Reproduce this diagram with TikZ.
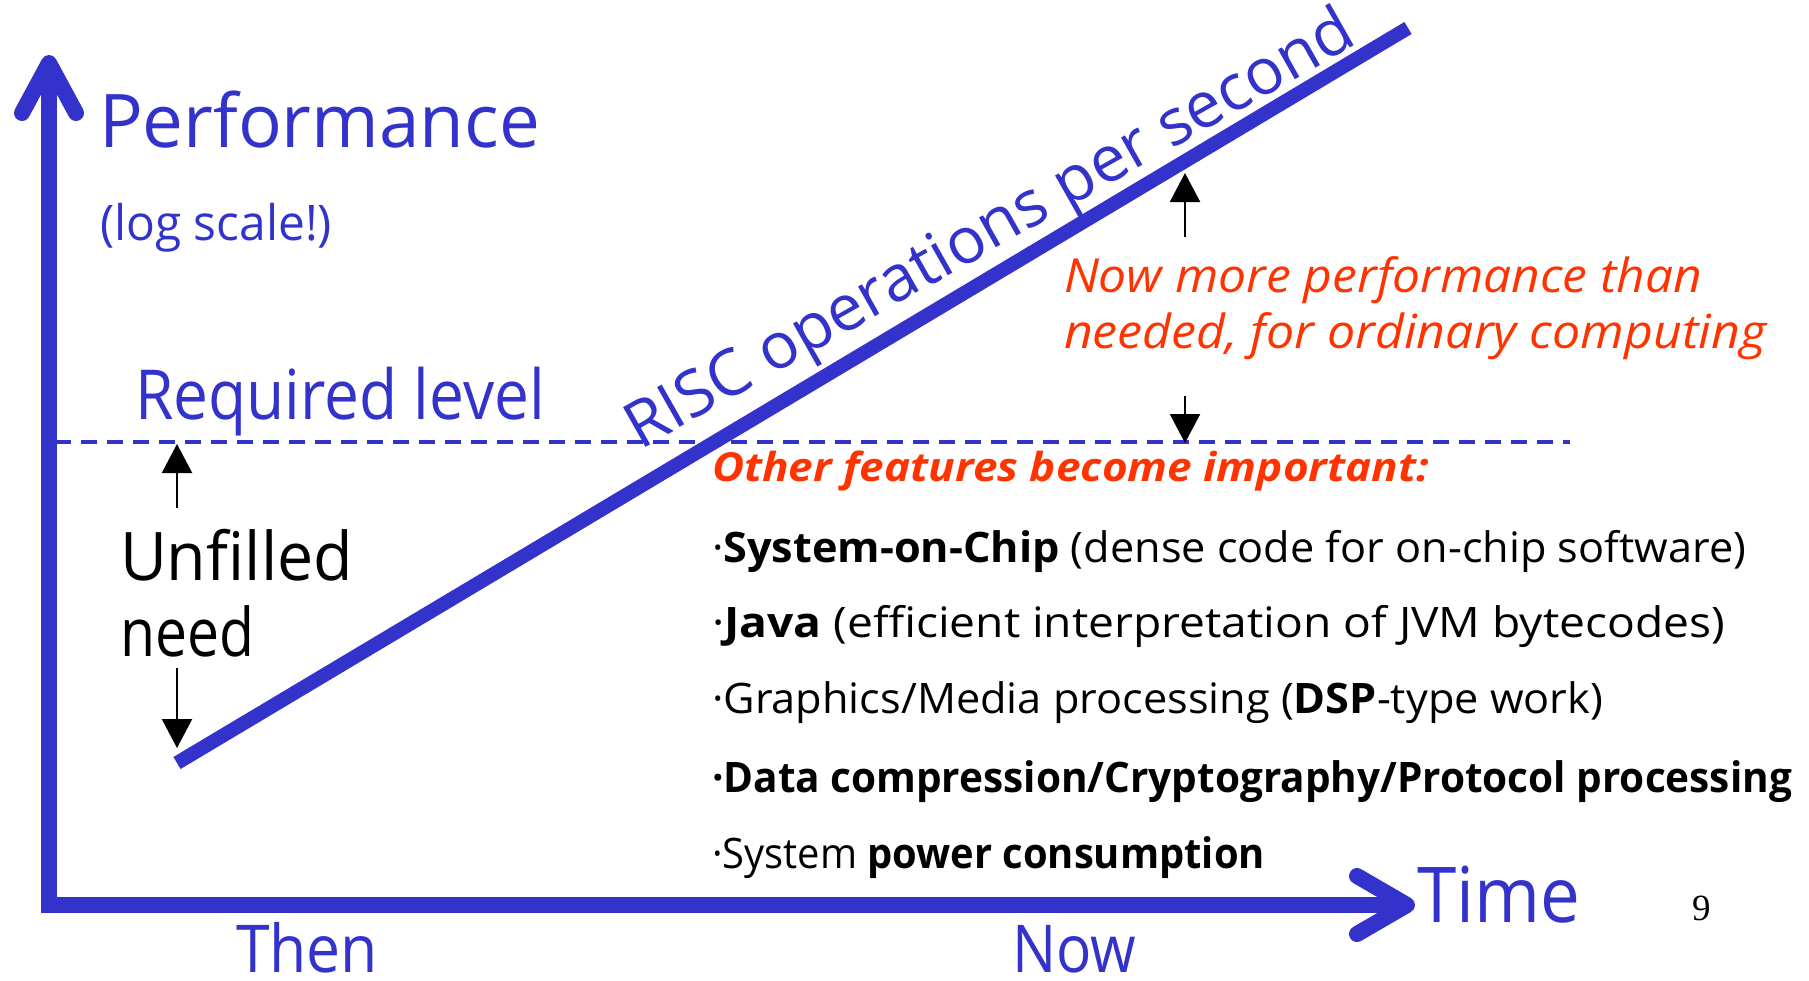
\documentclass[tikz,border=0pt]{standalone}
\usepackage{fontspec}
\setmainfont{Open Sans}
\newfontfamily\numfont{Liberation Serif}
\usetikzlibrary{arrows.meta}
\definecolor{axblue}{RGB}{51,51,204}
\definecolor{hot}{RGB}{255,51,0}
\newcommand{\fw}[2]{\resizebox{#1pt}{\height}{#2}}
\newcommand{\fs}[1]{\fontsize{#1}{#1}\selectfont}
\begin{document}
\begin{tikzpicture}[x=1pt,y=-1pt,
  lbl/.style={inner sep=0pt, outer sep=0pt, anchor=base west},
  axisline/.style={line width=16pt, draw=axblue},
  axishead/.style={line width=16pt, draw=axblue, line cap=round, line join=round},
  gaparrow/.style={draw=black, line width=2.2pt, -{Triangle[width=30pt,length=29pt]}},
  reqline/.style={draw=axblue, line width=3.5pt, dash pattern=on 16pt off 10pt},
  riscline/.style={draw=axblue, line width=14pt}]
\useasboundingbox (0,0) rectangle (1809,980);
% axes
\coordinate (ybot) at (49,913);
\coordinate (ytop) at (49,72);
\coordinate (origin) at (49,905);
\coordinate (xend) at (1396,905);
\coordinate (ytip) at (49,63);
\coordinate (ywl) at (22,113);
\coordinate (ywr) at (76,113);
\coordinate (xtip) at (1407,905);
\coordinate (xwu) at (1357,876);
\coordinate (xwd) at (1357,934);
\draw[axisline] (ybot) -- (ytop);
\draw[axisline] (origin) -- (xend);
\draw[axishead] (ywl) -- (ytip) -- (ywr);
\draw[axishead] (xwu) -- (xtip) -- (xwd);
% required level
\coordinate (req0) at (55,442);
\coordinate (req1) at (1570,442);
\draw[reqline] (req0) -- (req1);
% RISC line
\coordinate (risc0) at (177,763);
\coordinate (risc1) at (1408,28);
\draw[riscline] (risc0) -- (risc1);
% gap arrows
\coordinate (ua0) at (177,508);
\coordinate (ua1) at (177,444);
\coordinate (da0) at (177,668);
\coordinate (da1) at (177,748);
\coordinate (nu0) at (1185,237);
\coordinate (nu1) at (1185,173);
\coordinate (nd0) at (1185,396);
\coordinate (nd1) at (1185,443);
\draw[gaparrow] (ua0) -- (ua1);
\draw[gaparrow] (da0) -- (da1);
\draw[gaparrow] (nu0) -- (nu1);
\draw[gaparrow] (nd0) -- (nd1);
% texts
\node[lbl, text=axblue] (perf) at (99,147) {\fs{74}\fw{441}{Performance}};
\node[lbl, text=axblue] (logs) at (100,240) {\fs{49}\fw{232}{(log scale!)}};
\node[lbl, text=axblue] (req) at (135,419) {\fs{69}\fw{410}{Required level}};
\node[lbl] (unf) at (120,580) {\fs{67}\fw{233}{Unfilled}};
\node[lbl] (need) at (120,656) {\fs{67}\fw{134}{need}};
\node[lbl, text=axblue, rotate=29.5] (risc) at (640,450) {\fs{64}\fw{826}{RISC operations per second}};
\node[lbl, text=hot] (now1) at (1064,292) {\fs{47}\fw{638}{\itshape Now more performance than}};
\node[lbl, text=hot] (now2) at (1064,348) {\fs{47}\fw{702}{\itshape needed, for ordinary computing}};
\node[lbl, text=hot] (other) at (712,481) {\fs{40}\fw{717}{\bfseries\itshape Other features become important:}};
\node[lbl] (b1) at (712,562) {\fs{42}\fw{1034}{·\textbf{System-on-Chip} (dense code for on-chip software)}};
\node[lbl] (b2) at (712,637) {\fs{42}\fw{1013}{·\textbf{Java} (efficient interpretation of JVM bytecodes)}};
\node[lbl] (b3) at (712,713) {\fs{42}\fw{891}{·Graphics/Media processing (\textbf{DSP}-type work)}};
\node[lbl] (b4) at (712,792) {\fs{42}\fw{1080}{\bfseries ·Data compression/Cryptography/Protocol processing}};
\node[lbl] (b5) at (712,868) {\fs{42}\fw{553}{·System \textbf{power consumption}}};
\node[lbl, text=axblue] (time) at (1417,922) {\fs{77}\fw{163}{Time}};
\node[lbl, text=axblue] (then) at (236,972) {\fs{66}\fw{142}{Then}};
\node[lbl, text=axblue] (nowlbl) at (1012,972) {\fs{66}\fw{124}{Now}};
\node[lbl] (pg) at (1692,920) {\numfont\fs{37}9};
\end{tikzpicture}
\end{document}
